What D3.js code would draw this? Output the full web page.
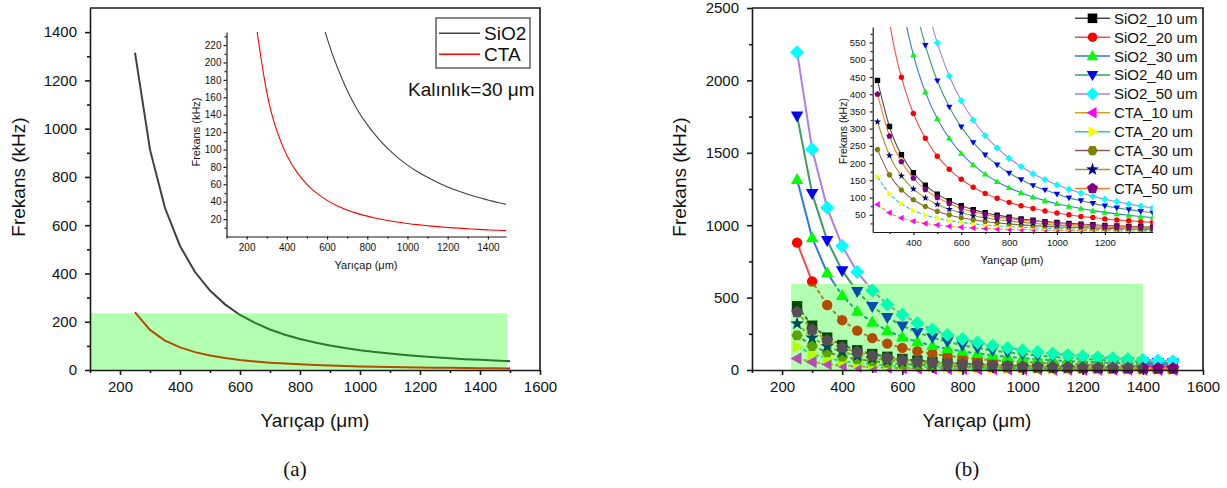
<!DOCTYPE html>
<html>
<head>
<meta charset="utf-8">
<script src="https://cdn.jsdelivr.net/npm/d3@7/dist/d3.min.js"></script>
<style>
  html, body { margin: 0; padding: 0; background: #fff; }
  svg { display: block; font-family: "Liberation Sans", Arial, sans-serif; }
</style>
</head>
<body>
<svg id="chart" width="1227" height="488"></svg>
<script>
// Radius values (µm) at which the resonance frequency was evaluated
const radius = [250, 300, 350, 400, 450, 500, 550, 600, 650, 700, 750, 800, 850,
                900, 950, 1000, 1050, 1100, 1150, 1200, 1250, 1300, 1350, 1400, 1450, 1500];

// Frequency (kHz) for each membrane material and thickness
const sio2_10 = [440, 306, 224, 172, 136, 110, 91, 76, 65, 56, 49, 43, 38, 34, 30, 27.5, 25, 23, 21, 19, 17.6, 16.3, 15.1, 14, 13.1, 12.2];
const sio2_20 = [880, 611, 449, 344, 272, 220, 182, 153, 130, 112, 98, 86, 76, 68, 61, 55, 50, 45, 42, 38, 35, 32.5, 30, 28, 26, 24.4];
const sio2_30 = [1315, 913, 671, 514, 406, 329, 272, 228, 195, 168, 146, 128.5, 114, 101.5, 91, 82, 74.5, 68, 62, 57, 52.6, 48.6, 45, 42, 39, 36.5];
const sio2_40 = [1755, 1219, 895, 686, 542, 439, 363, 305, 260, 224, 195, 171, 152, 135, 122, 110, 99, 91, 83, 76, 70, 65, 60, 56, 52, 49];
const sio2_50 = [2195, 1524, 1120, 857, 677, 549, 453, 381, 325, 280, 244, 214, 190, 169, 152, 137, 124, 113, 104, 95, 88, 81, 75, 70, 65, 61];
const cta_10 = [80, 55.6, 40.8, 31.3, 24.7, 20, 16.5, 13.9, 11.8, 10.2, 8.9, 7.8, 6.9, 6.2, 5.5, 5, 4.5, 4.1, 3.8, 3.5, 3.2, 3, 2.7, 2.6, 2.4, 2.2];
const cta_20 = [160, 111, 82, 62.5, 49, 40, 33, 28, 24, 20.4, 17.8, 15.6, 13.8, 12.3, 11.1, 10, 9.1, 8.3, 7.6, 6.9, 6.4, 5.9, 5.5, 5.1, 4.8, 4.4];
const cta_30 = [239, 166, 122, 93.5, 74, 60, 49.5, 41.5, 35.4, 30.5, 26.6, 23.4, 20.7, 18.4, 16.6, 15, 13.6, 12.4, 11.3, 10.4, 9.6, 8.9, 8.2, 7.6, 7.1, 6.6];
const cta_40 = [320, 222, 163, 125, 99, 80, 66, 56, 47, 41, 36, 31, 28, 25, 22, 20, 18, 16.5, 15, 13.9, 12.8, 11.8, 11, 10.2, 9.5, 8.9];
const cta_50 = [400, 278, 204, 156, 123, 100, 83, 69, 59, 51, 44, 39, 35, 31, 28, 25, 22.7, 20.7, 18.9, 17.4, 16, 14.8, 13.7, 12.8, 11.9, 11.1];

// Panel (a): 30 µm thick membranes
const seriesA = ["SiO2", "CTA"];
const valuesA = [sio2_30, cta_30];

// Panel (b): all thicknesses
const seriesB = ["SiO2_10 um", "SiO2_20 um", "SiO2_30 um", "SiO2_40 um", "SiO2_50 um",
                 "CTA_10 um", "CTA_20 um", "CTA_30 um", "CTA_40 um", "CTA_50 um"];
const valuesB = [sio2_10, sio2_20, sio2_30, sio2_40, sio2_50, cta_10, cta_20, cta_30, cta_40, cta_50];

// Axis ranges and ticks
const mainXDomain = [100, 1600];
const mainXTicks = [200, 400, 600, 800, 1000, 1200, 1400, 1600];
const mainXMinor = [100, 300, 500, 700, 900, 1100, 1300, 1500];
const aYDomain = [0, 1500];
const aYTicks = [0, 200, 400, 600, 800, 1000, 1200, 1400];
const aYMinor = [100, 300, 500, 700, 900, 1100, 1300];
const bYDomain = [0, 2500];
const bYTicks = [0, 500, 1000, 1500, 2000, 2500];
const bYMinor = [250, 750, 1250, 1750, 2250];

// Zoomed windows (shaded in the main plots, shown in the insets)
const zoomAX = [100, 1490], zoomAY = [0, 235];
const zoomBX = [230, 1400], zoomBY = [0, 595];
const insetAXTicks = [200, 400, 600, 800, 1000, 1200, 1400];
const insetAXMinor = [100, 300, 500, 700, 900, 1100, 1300];
const insetAYTicks = [20, 40, 60, 80, 100, 120, 140, 160, 180, 200, 220];
const insetAYMinor = [10, 30, 50, 70, 90, 110, 130, 150, 170, 190, 210, 230];
const insetBXTicks = [400, 600, 800, 1000, 1200];
const insetBXMinor = [300, 500, 700, 900, 1100, 1300];
const insetBYTicks = [50, 100, 150, 200, 250, 300, 350, 400, 450, 500, 550];
const insetBYMinor = [25, 75, 125, 175, 225, 275, 325, 375, 425, 475, 525, 575];

// Styles
const colorsA = ["#404040", "#ff0000"];
const lineColorsB = ["#4a4a4a", "#f24a4a", "#2f78e0", "#3a9e62", "#b07ee0",
                     "#d8a020", "#1ec8cc", "#8c5a5a", "#9c9c1c", "#ff7a20"];
const markerColorsB = ["#000000", "#ff0000", "#00ff00", "#0000ff", "#00ffff",
                       "#ff00ff", "#ffff00", "#808000", "#000080", "#800080"];
const markerShapesB = ["square", "circle", "triUp", "triDown", "diamond",
                       "triLeft", "triRight", "hexagon", "star", "pentagon"];
const shade = "rgba(0,255,0,0.3)";
const axisColor = "#1a1a1a";

function poly(c, pts) {
  c.moveTo(pts[0][0], pts[0][1]);
  for (let i = 1; i < pts.length; i++) c.lineTo(pts[i][0], pts[i][1]);
  c.closePath();
}
function ring(n, rad, start) {
  const p = [];
  for (let i = 0; i < n; i++) {
    const a = start + i * 2 * Math.PI / n;
    p.push([rad * Math.cos(a), rad * Math.sin(a)]);
  }
  return p;
}
const shapeDraw = {
  square: (c, r) => c.rect(-r, -r, 2 * r, 2 * r),
  circle: (c, r) => { c.moveTo(r, 0); c.arc(0, 0, r, 0, 2 * Math.PI); },
  triUp: (c, r) => poly(c, [[0, -1.25 * r], [1.2 * r, 0.85 * r], [-1.2 * r, 0.85 * r]]),
  triDown: (c, r) => poly(c, [[0, 1.25 * r], [1.2 * r, -0.85 * r], [-1.2 * r, -0.85 * r]]),
  triLeft: (c, r) => poly(c, [[-1.25 * r, 0], [0.85 * r, -1.2 * r], [0.85 * r, 1.2 * r]]),
  triRight: (c, r) => poly(c, [[1.25 * r, 0], [-0.85 * r, -1.2 * r], [-0.85 * r, 1.2 * r]]),
  diamond: (c, r) => poly(c, [[0, -1.35 * r], [1.35 * r, 0], [0, 1.35 * r], [-1.35 * r, 0]]),
  hexagon: (c, r) => poly(c, ring(6, 1.1 * r, 0)),
  pentagon: (c, r) => poly(c, ring(5, 1.2 * r, -Math.PI / 2)),
  star: (c, r) => {
    const p = [];
    for (let i = 0; i < 10; i++) {
      const a = -Math.PI / 2 + i * Math.PI / 5;
      const rr = i % 2 ? 0.55 * r : 1.4 * r;
      p.push([rr * Math.cos(a), rr * Math.sin(a)]);
    }
    poly(c, p);
  }
};
function marker(kind, r) {
  return d3.symbol().type({ draw: (c, s) => shapeDraw[kind](c, s) }).size(r)();
}

const svg = d3.select("#chart");
const defs = svg.append("defs");

function styleAxis(g, w) {
  g.select(".domain").attr("stroke", axisColor).attr("stroke-width", w);
  g.selectAll(".tick line").attr("stroke", axisColor).attr("stroke-width", w);
  g.selectAll(".tick text").attr("fill", "#111");
}

// Draws a main panel frame with outward major/minor ticks
function mainAxes(x, y, yTicks, yMinor, fontPx) {
  const [x0, x1] = x.range(), [y0, y1] = y.range();
  const gx = svg.append("g").attr("transform", `translate(0,${y0})`)
    .call(d3.axisBottom(x).tickValues(mainXTicks).tickSize(5).tickSizeOuter(0).tickFormat(d3.format("d")));
  gx.selectAll(".tick text").attr("y", 11).attr("dy", "0.71em").style("font-size", fontPx + "px");
  const gxm = svg.append("g").attr("transform", `translate(0,${y0})`)
    .call(d3.axisBottom(x).tickValues(mainXMinor).tickSize(3).tickSizeOuter(0).tickFormat(""));
  gxm.select(".domain").remove();
  const gy = svg.append("g").attr("transform", `translate(${x0},0)`)
    .call(d3.axisLeft(y).tickValues(yTicks).tickSize(5).tickSizeOuter(0).tickFormat(d3.format("d")));
  gy.selectAll(".tick text").attr("x", -13).style("font-size", fontPx + "px");
  const gym = svg.append("g").attr("transform", `translate(${x0},0)`)
    .call(d3.axisLeft(y).tickValues(yMinor).tickSize(3).tickSizeOuter(0).tickFormat(""));
  gym.select(".domain").remove();
  [gx, gxm, gy, gym].forEach(g => styleAxis(g, 1.6));
  svg.append("path").attr("d", `M${x0},${y1}H${x1}V${y0}`)
    .attr("fill", "none").attr("stroke", axisColor).attr("stroke-width", 1.6);
}

function insetAxes(x, y, xt, xm, yt, ym, fontPx, xLabOff, yLabOff) {
  const [x0] = x.range(), [y0] = y.range();
  const gx = svg.append("g").attr("transform", `translate(0,${y0})`)
    .call(d3.axisBottom(x).tickValues(xt).tickSize(3).tickSizeOuter(0).tickFormat(d3.format("d")));
  gx.selectAll(".tick text").attr("y", xLabOff).attr("dy", "0.71em").style("font-size", fontPx + "px");
  const gxm = svg.append("g").attr("transform", `translate(0,${y0})`)
    .call(d3.axisBottom(x).tickValues(xm).tickSize(2).tickSizeOuter(0).tickFormat(""));
  gxm.select(".domain").remove();
  const gy = svg.append("g").attr("transform", `translate(${x0},0)`)
    .call(d3.axisLeft(y).tickValues(yt).tickSize(3).tickSizeOuter(0).tickFormat(d3.format("d")));
  gy.selectAll(".tick text").attr("x", -yLabOff).style("font-size", fontPx + "px");
  const gym = svg.append("g").attr("transform", `translate(${x0},0)`)
    .call(d3.axisLeft(y).tickValues(ym).tickSize(2).tickSizeOuter(0).tickFormat(""));
  gym.select(".domain").remove();
  [gx, gxm, gy, gym].forEach(g => styleAxis(g, 1.2));
}

function text(x, y, str, size, opts = {}) {
  const t = svg.append("text").attr("x", x).attr("y", y).text(str)
    .style("font-size", size + "px").attr("fill", "#111")
    .attr("text-anchor", opts.anchor || "start");
  if (opts.rotate) t.attr("transform", `rotate(-90,${x},${y})`);
  if (opts.family) t.style("font-family", opts.family);
  return t;
}

function clip(id, x, y) {
  const [x0, x1] = x.range(), [y0, y1] = y.range();
  defs.append("clipPath").attr("id", id).append("rect")
    .attr("x", x0).attr("y", y1).attr("width", x1 - x0).attr("height", y0 - y1);
  return `url(#${id})`;
}

// ---------------- Panel (a) ----------------
const xA = d3.scaleLinear().domain(mainXDomain).range([90, 540]);
const yA = d3.scaleLinear().domain(aYDomain).range([370, 8]);

seriesA.forEach((name, i) => {
  const pts = radius.map((r, j) => [r, valuesA[i][j]]);
  svg.append("path")
    .attr("d", d3.line().x(d => xA(d[0])).y(d => yA(d[1]))(pts))
    .attr("fill", "none").attr("stroke", colorsA[i]).attr("stroke-width", 2);
});
svg.append("rect")
  .attr("x", xA(zoomAX[0])).attr("y", yA(zoomAY[1]))
  .attr("width", xA(zoomAX[1]) - xA(zoomAX[0])).attr("height", yA(zoomAY[0]) - yA(zoomAY[1]))
  .attr("fill", shade);
mainAxes(xA, yA, aYTicks, aYMinor, 15);
text(315, 427, "Yarıçap (μm)", 19, { anchor: "middle" });
text(25, 177, "Frekans (kHz)", 19, { anchor: "middle", rotate: true });
text(295, 476, "(a)", 21, { anchor: "middle", family: "'Liberation Serif', 'Times New Roman', serif" });

// Inset (a)
const xIA = d3.scaleLinear().domain(zoomAX).range([226.5, 506]);
const yIA = d3.scaleLinear().domain(zoomAY).range([236.5, 32]);
const clipIA = clip("clipIA", xIA, yIA);
seriesA.forEach((name, i) => {
  const pts = radius.map((r, j) => [r, valuesA[i][j]]);
  svg.append("path").attr("clip-path", clipIA)
    .attr("d", d3.line().curve(d3.curveNatural).x(d => xIA(d[0])).y(d => yIA(d[1]))(pts))
    .attr("fill", "none").attr("stroke", colorsA[i]).attr("stroke-width", 1.1);
});
insetAxes(xIA, yIA, insetAXTicks, insetAXMinor, insetAYTicks, insetAYMinor, 10, 7, 5);
text(366, 269, "Yarıçap (μm)", 11, { anchor: "middle" });
text(200, 132, "Frekans (kHz)", 11, { anchor: "middle", rotate: true });

// Legend (a)
svg.append("rect").attr("x", 436).attr("y", 18).attr("width", 94).attr("height", 50)
  .attr("fill", "#fff").attr("stroke", "#111").attr("stroke-width", 1);
seriesA.forEach((name, i) => {
  const cy = 33.3 + i * 21;
  svg.append("line").attr("x1", 439).attr("x2", 480).attr("y1", cy).attr("y2", cy)
    .attr("stroke", colorsA[i]).attr("stroke-width", 1.4);
  text(484, cy + 7, name, 19);
});
text(408, 96, "Kalınlık=30 μm", 19);

// ---------------- Panel (b) ----------------
const xB = d3.scaleLinear().domain(mainXDomain).range([752, 1203]);
const yB = d3.scaleLinear().domain(bYDomain).range([370, 8]);

// Connecting lines are solid above the shaded window and broken inside it
const shadeB = {
  x: xB(zoomBX[0]), y: yB(zoomBY[1]),
  w: xB(zoomBX[1]) - xB(zoomBX[0]), h: yB(zoomBY[0]) - yB(zoomBY[1])
};
const outMask = defs.append("mask").attr("id", "outsideShadeB").attr("maskUnits", "userSpaceOnUse");
outMask.append("rect").attr("x", 0).attr("y", 0).attr("width", 1227).attr("height", 488).attr("fill", "#fff");
outMask.append("rect").attr("x", shadeB.x).attr("y", shadeB.y).attr("width", shadeB.w).attr("height", shadeB.h).attr("fill", "#000");
defs.append("clipPath").attr("id", "insideShadeB").append("rect")
  .attr("x", shadeB.x).attr("y", shadeB.y).attr("width", shadeB.w).attr("height", shadeB.h);

seriesB.forEach((name, i) => {
  const pts = radius.map((r, j) => [r, valuesB[i][j]]);
  const d = d3.line().x(p => xB(p[0])).y(p => yB(p[1]))(pts);
  svg.append("path").attr("d", d).attr("mask", "url(#outsideShadeB)")
    .attr("fill", "none").attr("stroke", lineColorsB[i]).attr("stroke-width", 2);
  svg.append("path").attr("d", d).attr("clip-path", "url(#insideShadeB)")
    .attr("fill", "none").attr("stroke", lineColorsB[i]).attr("stroke-width", 2)
    .attr("stroke-dasharray", "4,2.5");
  svg.append("g").selectAll("path").data(pts).join("path")
    .attr("transform", p => `translate(${xB(p[0])},${yB(p[1])})`)
    .attr("d", marker(markerShapesB[i], 5.2))
    .attr("fill", markerColorsB[i]);
});
svg.append("rect")
  .attr("x", shadeB.x).attr("y", shadeB.y).attr("width", shadeB.w).attr("height", shadeB.h)
  .attr("fill", shade);
mainAxes(xB, yB, bYTicks, bYMinor, 15);
text(977, 427, "Yarıçap (μm)", 19, { anchor: "middle" });
text(686, 177, "Frekans (kHz)", 19, { anchor: "middle", rotate: true });
text(967, 476, "(b)", 21, { anchor: "middle", family: "'Liberation Serif', 'Times New Roman', serif" });

// Inset (b)
const xIB = d3.scaleLinear().domain(zoomBX).range([872.7, 1152.7]);
const yIB = d3.scaleLinear().domain(zoomBY).range([232, 27]);
const clipIB = clip("clipIB", xIB, yIB);
const gIB = svg.append("g").attr("clip-path", clipIB);
seriesB.forEach((name, i) => {
  const pts = radius.map((r, j) => [r, valuesB[i][j]]);
  gIB.append("path")
    .attr("d", d3.line().curve(d3.curveNatural).x(p => xIB(p[0])).y(p => yIB(p[1]))(pts))
    .attr("fill", "none").attr("stroke", lineColorsB[i]).attr("stroke-width", 1.1)
    .attr("stroke-dasharray", i === 5 || i === 6 ? "4,2" : null);
  gIB.append("g").selectAll("path").data(pts.filter(p => p[0] <= zoomBX[1])).join("path")
    .attr("transform", p => `translate(${xIB(p[0])},${yIB(p[1])})`)
    .attr("d", marker(markerShapesB[i], 2.7))
    .attr("fill", markerColorsB[i]);
});
insetAxes(xIB, yIB, insetBXTicks, insetBXMinor, insetBYTicks, insetBYMinor, 9.5, 7, 7);
text(1012, 264, "Yarıçap (μm)", 11, { anchor: "middle" });
text(847, 131, "Frekans (kHz)", 10.5, { anchor: "middle", rotate: true });

// Legend (b)
seriesB.forEach((name, i) => {
  const cy = 18.3 + i * 18.9;
  svg.append("line").attr("x1", 1075).attr("x2", 1110).attr("y1", cy).attr("y2", cy)
    .attr("stroke", lineColorsB[i]).attr("stroke-width", 1.5);
  svg.append("path").attr("transform", `translate(1092.5,${cy})`)
    .attr("d", marker(markerShapesB[i], 4.8)).attr("fill", markerColorsB[i]);
  text(1114, cy + 5.4, name, 15);
});
</script>
</body>
</html>
